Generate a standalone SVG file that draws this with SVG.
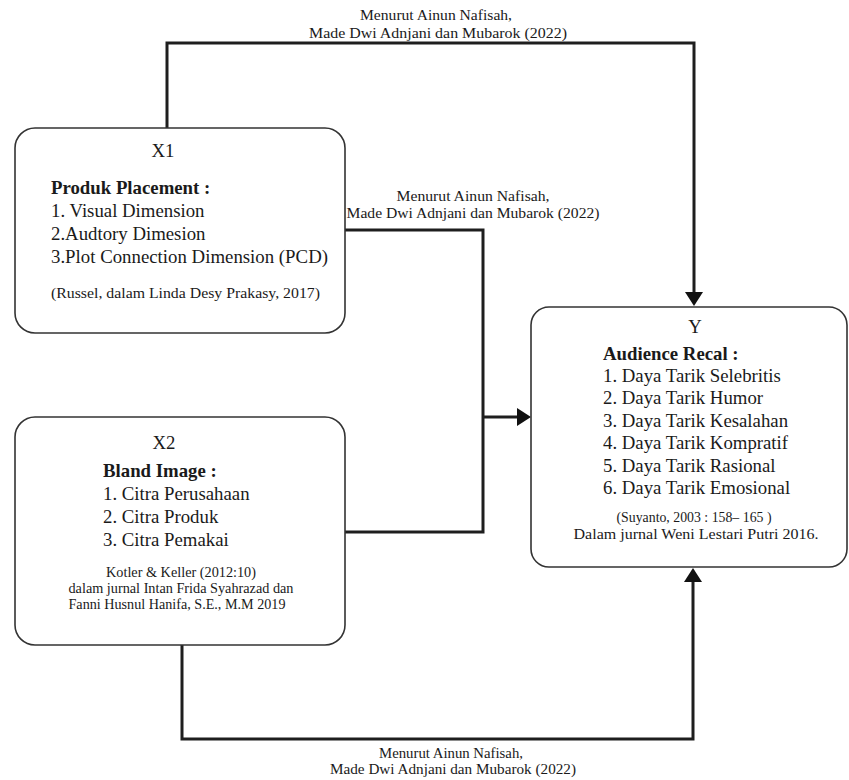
<svg xmlns="http://www.w3.org/2000/svg" width="849" height="780" viewBox="0 0 849 780">
<style>
text{font-family:"Liberation Serif","Times New Roman",serif;fill:#1a1a1a}
.box{fill:#fff;stroke:#333;stroke-width:1.6}
.t{font-size:18.8px}
.b{font-size:18.8px;font-weight:bold}
.s{font-size:14px}
.lbl{font-size:14px;text-anchor:middle}
.c{text-anchor:middle}
.conn{fill:none;stroke:#1e1e1e;stroke-width:3;stroke-linejoin:miter}
</style>
<defs>
<marker id="ah" viewBox="0 0 14 18" refX="10" refY="9" markerWidth="14" markerHeight="18" markerUnits="userSpaceOnUse" orient="auto">
<path d="M0,0 L14,9 L0,18 z" fill="#111"/>
</marker>
</defs>
<rect width="849" height="780" fill="#fff"/>
<g id="connectors">
<path class="conn" d="M167,128 V43 H694 V302" marker-end="url(#ah)"/>
<path class="conn" d="M345,230 H483 V532 H345"/>
<path class="conn" d="M483,417 H527" marker-end="url(#ah)"/>
<path class="conn" d="M182,645 V739 H693 V572" marker-end="url(#ah)"/>
<text class="lbl" x="436" y="20" textLength="152" lengthAdjust="spacingAndGlyphs">Menurut Ainun Nafisah,</text>
<text class="lbl" x="438" y="38" textLength="258" lengthAdjust="spacingAndGlyphs">Made Dwi Adnjani dan Mubarok (2022)</text>
<text class="lbl" x="473" y="201" textLength="153" lengthAdjust="spacingAndGlyphs">Menurut Ainun Nafisah,</text>
<text class="lbl" x="473" y="218" textLength="253" lengthAdjust="spacingAndGlyphs">Made Dwi Adnjani dan Mubarok (2022)</text>
<text class="lbl" x="451" y="758" textLength="144" lengthAdjust="spacingAndGlyphs">Menurut Ainun Nafisah,</text>
<text class="lbl" x="453" y="774" textLength="246" lengthAdjust="spacingAndGlyphs">Made Dwi Adnjani dan Mubarok (2022)</text>
</g>
<g id="X1">
<rect class="box" x="15" y="128" width="330" height="205" rx="20" ry="20"/>
<text class="t c" x="163" y="157">X1</text>
<text class="b" x="51" y="194">Produk Placement :</text>
<text class="t" x="51" y="217">1. Visual Dimension</text>
<text class="t" x="51" y="240">2.Audtory Dimesion</text>
<text class="t" x="51" y="263" textLength="277" lengthAdjust="spacingAndGlyphs">3.Plot Connection Dimension (PCD)</text>
<text class="s" x="51" y="298" style="font-size:15.5px" textLength="269" lengthAdjust="spacingAndGlyphs">(Russel, dalam Linda Desy Prakasy, 2017)</text>
</g>
<g id="X2">
<rect class="box" x="15" y="417" width="330" height="228" rx="20" ry="20"/>
<text class="t c" x="164" y="449">X2</text>
<text class="b" x="103" y="477">Bland Image :</text>
<text class="t" x="103" y="500">1. Citra Perusahaan</text>
<text class="t" x="103" y="523">2. Citra Produk</text>
<text class="t" x="103" y="546">3. Citra Pemakai</text>
<text class="s c" x="181" y="577" textLength="150" lengthAdjust="spacingAndGlyphs">Kotler &amp; Keller (2012:10)</text>
<text class="s c" x="181" y="593" textLength="225" lengthAdjust="spacingAndGlyphs">dalam jurnal Intan Frida Syahrazad dan</text>
<text class="s c" x="177" y="609" textLength="217" lengthAdjust="spacingAndGlyphs">Fanni Husnul Hanifa, S.E., M.M 2019</text>
</g>
<g id="Y">
<rect class="box" x="531" y="307" width="316" height="260" rx="18" ry="18"/>
<text class="t c" x="695" y="333">Y</text>
<text class="b" x="603" y="360">Audience Recal :</text>
<text class="t" x="603" y="382">1. Daya Tarik Selebritis</text>
<text class="t" x="603" y="404">2. Daya Tarik Humor</text>
<text class="t" x="603" y="427">3. Daya Tarik Kesalahan</text>
<text class="t" x="603" y="449">4. Daya Tarik Kompratif</text>
<text class="t" x="603" y="472">5. Daya Tarik Rasional</text>
<text class="t" x="603" y="494">6. Daya Tarik Emosional</text>
<text class="s c" x="694" y="522" textLength="155" lengthAdjust="spacingAndGlyphs">(Suyanto, 2003 : 158– 165 )</text>
<text class="s c" x="696" y="539" textLength="245" lengthAdjust="spacingAndGlyphs">Dalam jurnal Weni Lestari Putri 2016.</text>
</g>
</svg>
